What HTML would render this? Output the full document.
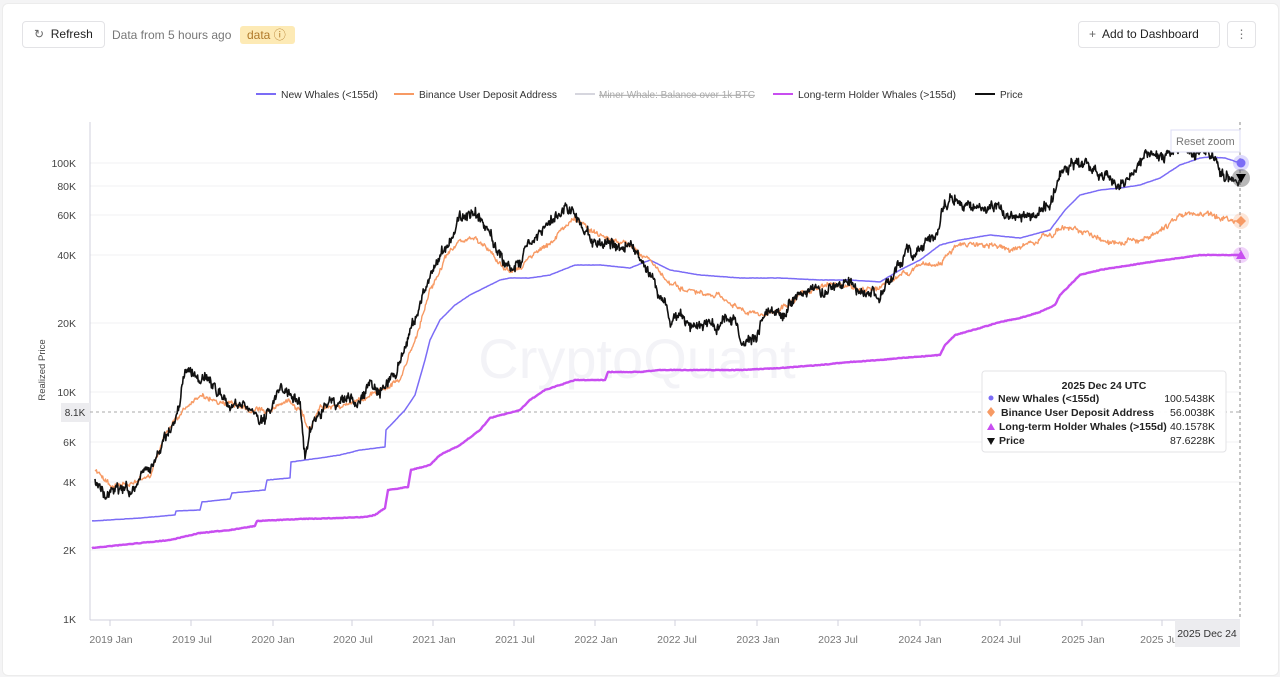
<!DOCTYPE html>
<html><head><meta charset="utf-8">
<style>
body{margin:0;width:1280px;height:677px;background:#f4f4f5;font-family:"Liberation Sans",sans-serif;overflow:hidden;position:relative}
.card{position:absolute;left:2px;top:3px;width:1275px;height:671px;background:#fff;border:1px solid #ececec;border-radius:6px}
.btn{position:absolute;border:1px solid #e3e3e6;border-radius:4px;background:#fff;font-size:12px;color:#222;box-sizing:border-box}
</style></head><body>
<div class="card"></div>
<div class="btn" style="left:22px;top:21px;width:83px;height:27px;line-height:25px;padding-left:11px"><span style="color:#666">&#8635;</span>&nbsp; Refresh</div>
<div style="position:absolute;left:112px;top:28px;font-size:12px;color:#777">Data from 5 hours ago</div>
<div style="position:absolute;left:240px;top:26px;width:55px;height:18px;background:#fdeab5;border-radius:3px;font-size:12px;color:#b07a2a;line-height:18px;padding-left:7px;box-sizing:border-box">data &#9432;</div>
<div class="btn" style="left:1078px;top:21px;width:142px;height:27px;line-height:25px;padding-left:10px"><span style="color:#666">+</span>&nbsp; Add to Dashboard</div>
<div class="btn" style="left:1227px;top:21px;width:29px;height:27px;line-height:25px;text-align:center;color:#777">&#8942;</div>
<svg width="1280" height="677" style="position:absolute;left:0;top:0" font-family="Liberation Sans, sans-serif">
<g font-size="10" fill="#333">
<line x1="256" y1="94" x2="276" y2="94" stroke="#7b6cf6" stroke-width="2"/><text x="281" y="98" textLength="97" lengthAdjust="spacingAndGlyphs">New Whales (&lt;155d)</text>
<line x1="394" y1="94" x2="414" y2="94" stroke="#f79a64" stroke-width="2"/><text x="419" y="98" textLength="138" lengthAdjust="spacingAndGlyphs">Binance User Deposit Address</text>
<line x1="575" y1="94" x2="595" y2="94" stroke="#d6d6de" stroke-width="2"/><text x="599" y="98" fill="#aaa" text-decoration="line-through" textLength="156" lengthAdjust="spacingAndGlyphs">Miner Whale: Balance over 1k BTC</text>
<line x1="773" y1="94" x2="793" y2="94" stroke="#c84ef0" stroke-width="2"/><text x="798" y="98" textLength="158" lengthAdjust="spacingAndGlyphs">Long-term Holder Whales (&gt;155d)</text>
<line x1="975" y1="94" x2="995" y2="94" stroke="#111" stroke-width="2"/><text x="1000" y="98">Price</text>
</g>
<g stroke="#f0f0f3" stroke-width="1">
<line x1="90" x2="1240" y1="163" y2="163"/><line x1="90" x2="1240" y1="186" y2="186"/><line x1="90" x2="1240" y1="215" y2="215"/><line x1="90" x2="1240" y1="255" y2="255"/><line x1="90" x2="1240" y1="323" y2="323"/><line x1="90" x2="1240" y1="392" y2="392"/><line x1="90" x2="1240" y1="442" y2="442"/><line x1="90" x2="1240" y1="482" y2="482"/><line x1="90" x2="1240" y1="550" y2="550"/>
</g>
<line x1="90" y1="122" x2="90" y2="620" stroke="#d0d0dc"/>
<line x1="90" y1="620" x2="1240" y2="620" stroke="#d0d0dc"/>
<g font-size="10.5" fill="#444" text-anchor="end">
<text x="76" y="167">100K</text><text x="76" y="190">80K</text><text x="76" y="219">60K</text><text x="76" y="259">40K</text><text x="76" y="327">20K</text><text x="76" y="396">10K</text><text x="76" y="446">6K</text><text x="76" y="486">4K</text><text x="76" y="554">2K</text><text x="76" y="623">1K</text>
</g>
<text transform="translate(45,370) rotate(-90)" font-size="9.5" fill="#444" text-anchor="middle">Realized Price</text>
<g stroke="#d0d0dc"><line x1="110" y1="620" x2="110" y2="626"/><line x1="191" y1="620" x2="191" y2="626"/><line x1="273" y1="620" x2="273" y2="626"/><line x1="352" y1="620" x2="352" y2="626"/><line x1="433" y1="620" x2="433" y2="626"/><line x1="514" y1="620" x2="514" y2="626"/><line x1="595" y1="620" x2="595" y2="626"/><line x1="675" y1="620" x2="675" y2="626"/><line x1="757" y1="620" x2="757" y2="626"/><line x1="838" y1="620" x2="838" y2="626"/><line x1="920" y1="620" x2="920" y2="626"/><line x1="1000" y1="620" x2="1000" y2="626"/><line x1="1082" y1="620" x2="1082" y2="626"/><line x1="1162" y1="620" x2="1162" y2="626"/></g>
<g font-size="10.5" fill="#777" text-anchor="middle">
<text x="111" y="643">2019 Jan</text><text x="192" y="643">2019 Jul</text><text x="273" y="643">2020 Jan</text><text x="353" y="643">2020 Jul</text><text x="434" y="643">2021 Jan</text><text x="515" y="643">2021 Jul</text><text x="596" y="643">2022 Jan</text><text x="677" y="643">2022 Jul</text><text x="758" y="643">2023 Jan</text><text x="838" y="643">2023 Jul</text><text x="920" y="643">2024 Jan</text><text x="1001" y="643">2024 Jul</text><text x="1083" y="643">2025 Jan</text><text x="1160" y="643">2025 Jul</text>
</g>
<text x="637" y="378" font-size="56" fill="#f3f3f7" text-anchor="middle">CryptoQuant</text>
<line x1="90" y1="412" x2="1240" y2="412" stroke="#aaa" stroke-dasharray="3,3"/>
<line x1="1240" y1="122" x2="1240" y2="620" stroke="#888" stroke-dasharray="3,3"/>
<rect x="61" y="403" width="29" height="19" fill="#ececef"/><text x="75" y="416" font-size="10" fill="#333" text-anchor="middle">8.1K</text>
<g id="series"></g>
<rect x="1171" y="130" width="69" height="22" fill="#fff" stroke="#dcdcf5"/><text x="1176" y="145" font-size="11" fill="#777">Reset zoom</text>
<circle cx="1241" cy="163" r="8" fill="#7b6cf6" opacity="0.25"/><circle cx="1241" cy="163" r="4.5" fill="#7b6cf6"/>
<circle cx="1241" cy="178" r="9" fill="#333" opacity="0.35"/><path d="M1236,174 L1246,174 L1241,183Z" fill="#000"/>
<circle cx="1241" cy="221" r="8" fill="#f79a64" opacity="0.25"/><path d="M1241,216 L1246,221 L1241,226 L1236,221Z" fill="#f79a64"/>
<circle cx="1241" cy="255" r="8" fill="#c84ef0" opacity="0.25"/><path d="M1241,250 L1246,259 L1236,259Z" fill="#c84ef0"/>
<rect x="982" y="371" width="244" height="81" fill="#fff" fill-opacity="0.95" stroke="#e3e3e6" rx="3"/>
<g font-size="10.5" fill="#222">
<text x="1104" y="389" text-anchor="middle" font-weight="bold">2025 Dec 24 UTC</text>
<circle cx="991" cy="398" r="2.5" fill="#7b6cf6"/><text x="998" y="402" font-weight="bold">New Whales (&lt;155d)</text><text x="1215" y="402" text-anchor="end">100.5438K</text>
<path d="M991,407 L995,412 L991,417 L987,412Z" fill="#f79a64"/><text x="1001" y="416" font-weight="bold">Binance User Deposit Address</text><text x="1215" y="416" text-anchor="end">56.0038K</text>
<path d="M991,423 L995,430 L987,430Z" fill="#c84ef0"/><text x="999" y="430" font-weight="bold">Long-term Holder Whales (&gt;155d)</text><text x="1215" y="430" text-anchor="end">40.1578K</text>
<path d="M987,438 L995,438 L991,445Z" fill="#111"/><text x="999" y="444" font-weight="bold">Price</text><text x="1215" y="444" text-anchor="end">87.6228K</text>
</g>
<rect x="1175" y="620" width="65" height="27" fill="#ececef"/><text x="1207" y="637" font-size="10.5" fill="#333" text-anchor="middle">2025 Dec 24</text>
</svg>
<script>
(function(){
var P={
price:[[95,480],[100,490],[105,500],[115,485],[125,490],[135,490],[150,470],[160,450],[170,430],[178,410],[185,375],[190,370],[200,380],[210,385],[220,395],[230,410],[240,400],[255,415],[265,420],[275,395],[290,390],[300,400],[305,460],[310,430],[320,415],[330,400],[345,400],[360,400],[370,385],[380,385],[395,375],[405,350],[415,320],[425,290],[435,270],[440,255],[450,240],[460,215],[470,215],[480,220],[490,235],[500,255],[510,270],[520,265],[530,240],[545,230],[555,220],[565,205],[575,215],[590,235],[600,245],[615,245],[630,245],[645,265],[655,285],[665,300],[670,320],[680,320],[700,325],[720,325],[735,315],[740,340],[755,340],[765,315],[775,315],[785,320],[795,295],[810,285],[825,295],[835,285],[850,285],[865,295],[880,295],[890,285],[905,255],[915,250],[925,240],[935,235],[945,205],[955,200],[970,210],[990,210],[1010,215],[1020,220],[1035,215],[1050,205],[1060,175],[1075,162],[1090,165],[1100,175],[1115,180],[1125,185],[1135,175],[1145,158],[1160,155],[1175,150],[1185,150],[1195,155],[1205,145],[1215,160],[1225,175],[1232,180],[1240,178]],
orange:[[95,470],[110,485],[130,485],[150,475],[165,435],[180,415],[200,395],[230,405],[250,410],[270,410],[290,400],[300,410],[310,430],[320,405],[345,405],[370,395],[400,380],[415,340],[430,290],[445,260],[460,240],[475,240],[490,250],[505,270],[520,270],[535,250],[550,245],[565,225],[575,220],[590,230],[610,240],[630,245],[650,260],[670,285],[700,295],[730,300],[740,310],[760,315],[780,310],[800,295],[830,285],[860,290],[880,290],[900,275],[920,265],[940,265],[955,245],[990,245],[1010,250],[1040,240],[1060,230],[1075,228],[1090,235],[1110,240],[1140,240],[1160,232],[1180,215],[1190,215],[1210,215],[1240,220]],
blue:[[92,521],[140,518],[175,515],[176,511],[200,510],[202,502],[230,499],[232,493],[265,490],[267,480],[290,478],[291,462],[320,458],[340,455],[360,450],[385,447],[386,430],[405,410],[415,395],[425,360],[430,340],[440,320],[455,305],[470,295],[490,285],[500,280],[510,278],[530,278],[550,275],[575,265],[600,265],[630,268],[650,260],[670,270],[700,275],[740,278],[780,278],[820,280],[850,280],[880,282],[900,270],[920,260],[940,245],[960,240],[990,235],[1020,238],[1050,230],[1065,210],[1080,195],[1100,190],[1120,188],[1140,185],[1160,178],[1180,165],[1200,158],[1210,157],[1225,158],[1240,163]],
purple:[[92,548],[150,542],[170,540],[200,533],[230,530],[255,526],[257,521],[300,519],[340,518],[365,517],[375,515],[385,508],[388,490],[408,487],[411,470],[430,465],[440,455],[460,445],[480,430],[490,418],[520,410],[530,400],[545,390],[560,385],[575,380],[605,380],[608,372],[640,372],[660,370],[700,370],[740,370],[780,368],[820,365],[850,362],[880,360],[900,358],[940,355],[945,345],[955,335],[980,328],[1000,322],[1020,318],[1040,312],[1055,305],[1060,295],[1075,280],[1080,275],[1100,270],[1150,262],[1180,258],[1200,255],[1240,255]]};
var seed=7;function r(){seed=(seed*16807)%2147483647;return seed/2147483647-0.5;}
function build(pts,noise,step,walk){var d="",k=0,w=0;for(var x=pts[0][0];x<=pts[pts.length-1][0];x+=step){while(k<pts.length-2&&pts[k+1][0]<x)k++;var a=pts[k],b=pts[k+1];var t=(x-a[0])/(b[0]-a[0]);if(t<0)t=0;if(t>1)t=1;w=w*0.85+r()*walk;var y=a[1]+(b[1]-a[1])*t+r()*noise+w;d+=(d?"L":"M")+x.toFixed(1)+","+y.toFixed(1);}return d;}
var g=document.getElementById("series"),ns="http://www.w3.org/2000/svg";
function add(d,c,w){var p=document.createElementNS(ns,"path");p.setAttribute("d",d);p.setAttribute("fill","none");p.setAttribute("stroke",c);p.setAttribute("stroke-width",w);p.setAttribute("stroke-linejoin","round");g.appendChild(p);}
add(build(P.purple,0.6,1,0),"#c84ef0",2.4);
add(build(P.blue,0.3,1,0),"#7b6cf6",1.5);
add(build(P.orange,3,0.7,3),"#f79a64",1.4);
add(build(P.price,7,0.6,6),"#111",1.6);
})();
</script>
</body></html>
